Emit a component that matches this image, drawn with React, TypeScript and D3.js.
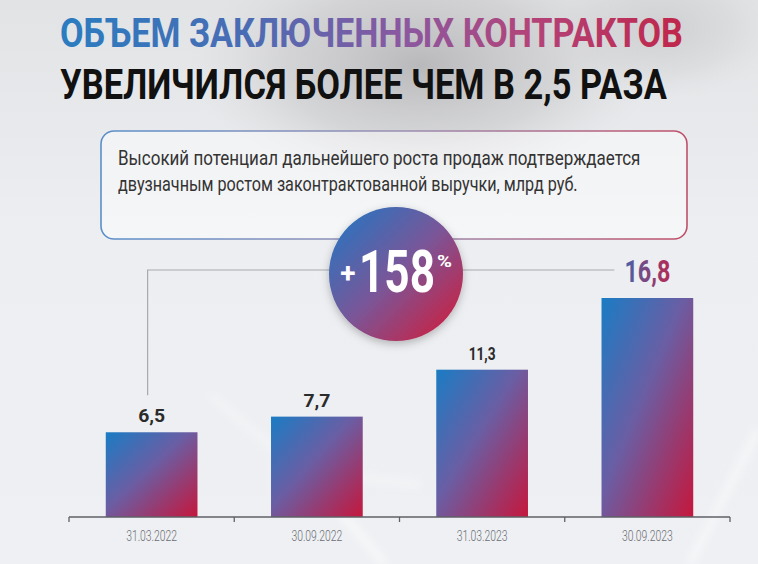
import React, { useLayoutEffect, useRef } from "react";
import * as d3 from "d3";

const categories = ["31.03.2022", "30.09.2022", "31.03.2023", "30.09.2023"];
const values = [6.5, 7.7, 11.3, 16.8];
const valueLabels = ["6,5", "7,7", "11,3", "16,8"];
const titleLine1 = "ОБЪЕМ ЗАКЛЮЧЕННЫХ КОНТРАКТОВ";
const titleLine2 = "УВЕЛИЧИЛСЯ БОЛЕЕ ЧЕМ В 2,5 РАЗА";
const noteLines = [
  "Высокий потенциал дальнейшего роста продаж подтверждается",
  "двузначным ростом законтрактованной выручки, млрд руб.",
];
const growthLabel = "158";

const W = 758;
const H = 564;
const FONT = "Roboto, 'Open Sans', sans-serif";

type FitProps = {
  x: number;
  y: number;
  width: number;
  anchor?: "start" | "middle" | "end";
  children: string;
  [key: string]: any;
};

// Text squeezed horizontally to a target width (condensed look) via a scale transform.
function FitText({ x, y, width, anchor = "start", children, ...rest }: FitProps) {
  const ref = useRef<SVGTextElement>(null);
  useLayoutEffect(() => {
    const el = ref.current;
    if (!el) return;
    const len = el.getComputedTextLength();
    const s = len > 0 ? width / len : 1;
    el.setAttribute("transform", `translate(${x},${y}) scale(${s},1)`);
  });
  return (
    <text ref={ref} x={0} y={0} textAnchor={anchor} transform={`translate(${x},${y})`} {...rest}>
      {children}
    </text>
  );
}

export default function App() {
  const x = d3
    .scaleBand<string>()
    .domain(categories)
    .range([69, 730])
    .paddingInner(0.445)
    .paddingOuter(0.2225);
  const y = d3.scaleLinear().domain([0, 16.8]).range([517, 298]);
  const step = x.step();
  const axisX0 = x.range()[0];
  const tickXs = d3.range(categories.length + 1).map((i) => axisX0 + i * step);

  const firstCenter = (x(categories[0]) as number) + x.bandwidth() / 2 - 4;
  const lastCenter = (x(categories[3]) as number) + x.bandwidth() / 2;
  const connectorY = 270;

  return (
    <svg
      width={W}
      height={H}
      style={{ position: "fixed", left: 0, top: 0, display: "block" }}
      xmlns="http://www.w3.org/2000/svg"
    >
      <defs>
        <linearGradient id="bg" x1="0" y1="0" x2="0" y2="1">
          <stop offset="0" stopColor="#e2e3e5" />
          <stop offset="0.4" stopColor="#eceef1" />
          <stop offset="1" stopColor="#eef0f3" />
        </linearGradient>
        <radialGradient id="blob" cx="0.5" cy="0.5" r="0.5">
          <stop offset="0" stopColor="#b4b4b6" stopOpacity="0.9" />
          <stop offset="0.6" stopColor="#c6c6c8" stopOpacity="0.55" />
          <stop offset="1" stopColor="#d8d8da" stopOpacity="0" />
        </radialGradient>
        <filter id="blur" x="-50%" y="-50%" width="200%" height="200%">
          <feGaussianBlur stdDeviation="4" />
        </filter>
        <linearGradient id="titleGrad" x1="0" y1="0" x2="1" y2="0">
          <stop offset="0" stopColor="#2a7cc0" />
          <stop offset="0.3" stopColor="#4a6cb4" />
          <stop offset="0.55" stopColor="#8a58a0" />
          <stop offset="0.75" stopColor="#b2447a" />
          <stop offset="1" stopColor="#c0264a" />
        </linearGradient>
        <linearGradient id="boxGrad" x1="0" y1="0" x2="1" y2="0">
          <stop offset="0" stopColor="#5b8fc9" />
          <stop offset="0.5" stopColor="#9a90b4" />
          <stop offset="1" stopColor="#c0506a" />
        </linearGradient>
        <linearGradient id="barGrad" x1="0" y1="0" x2="1" y2="1">
          <stop offset="0" stopColor="#1a7cc4" />
          <stop offset="0.45" stopColor="#6a5ea4" />
          <stop offset="1" stopColor="#c5173c" />
        </linearGradient>
        <linearGradient id="circleGrad" x1="0.1" y1="0.1" x2="0.9" y2="0.9">
          <stop offset="0" stopColor="#2f72bd" />
          <stop offset="0.5" stopColor="#7a5698" />
          <stop offset="1" stopColor="#c52448" />
        </linearGradient>
        <linearGradient id="labelGrad" x1="0" y1="0" x2="1" y2="0">
          <stop offset="0" stopColor="#4762a8" />
          <stop offset="1" stopColor="#b52a52" />
        </linearGradient>
        <filter id="shadow" x="-30%" y="-30%" width="160%" height="160%">
          <feDropShadow dx="0" dy="3" stdDeviation="4" floodColor="#000" floodOpacity="0.25" />
        </filter>
      </defs>

      {/* background */}
      <rect x={0} y={0} width={W} height={H} fill="url(#bg)" />
      <ellipse cx={420} cy={65} rx={230} ry={125} fill="url(#blob)" />
      <ellipse cx={660} cy={30} rx={120} ry={70} fill="url(#blob)" opacity={0.5} />
      <g filter="url(#blur)" stroke="#ffffff" strokeOpacity={0.7} fill="none">
        <path d="M 690 564 L 758 430" strokeWidth={5} />
        <path d="M 330 500 L 385 564" strokeWidth={6} />
        <path d="M 210 395 L 300 470 L 420 485" strokeWidth={4} strokeOpacity={0.5} />
      </g>

      {/* title */}
      <FitText x={60} y={47} width={623} fontFamily={FONT} fontWeight={700} fontSize={41} fill="url(#titleGrad)">
        {titleLine1}
      </FitText>
      <FitText x={60} y={99} width={607} fontFamily={FONT} fontWeight={700} fontSize={42} fill="#111">
        {titleLine2}
      </FitText>

      {/* note box */}
      <rect
        x={101}
        y={131}
        width={586}
        height={108}
        rx={13}
        fill="#ffffff"
        fillOpacity={0.45}
        stroke="url(#boxGrad)"
        strokeWidth={1.6}
      />
      {noteLines.map((line, i) => (
        <FitText
          key={i}
          x={118}
          y={165 + i * 26}
          width={i === 0 ? 523 : 460}
          fontFamily={FONT}
          fontSize={20}
          fill="#333"
        >
          {line}
        </FitText>
      ))}

      {/* connector */}
      <path
        d={`M ${firstCenter} ${y(values[0]) - 37} L ${firstCenter} ${connectorY} L ${lastCenter - 33} ${connectorY}`}
        fill="none"
        stroke="#a9a9ab"
        strokeWidth={1.2}
      />

      {/* bars */}
      {categories.map((c, i) => (
        <rect
          key={c}
          x={x(c)}
          y={y(values[i])}
          width={x.bandwidth()}
          height={y(0) - y(values[i])}
          fill="url(#barGrad)"
        />
      ))}

      {/* value labels */}
      {categories.map((c, i) => {
        const cx = (x(c) as number) + x.bandwidth() / 2;
        const last = i === categories.length - 1;
        return (
          <FitText
            key={c}
            x={cx}
            y={last ? y(values[i]) - 16 : y(values[i]) - 10}
            width={last ? 46 : 27}
            anchor="middle"
            fontFamily={FONT}
            fontWeight={700}
            fontSize={last ? 31 : 19}
            fill={last ? "url(#labelGrad)" : "#2b2b2b"}
          >
            {valueLabels[i]}
          </FitText>
        );
      })}

      {/* axis */}
      <g stroke="#5f6166" strokeWidth={1.3}>
        <line x1={tickXs[0]} x2={tickXs[tickXs.length - 1]} y1={y(0)} y2={y(0)} />
        {tickXs.map((tx, i) => (
          <line key={i} x1={tx} x2={tx} y1={y(0)} y2={y(0) + 5} />
        ))}
      </g>
      {categories.map((c) => (
        <FitText
          key={c}
          x={(x(c) as number) + x.bandwidth() / 2}
          y={541}
          width={51}
          anchor="middle"
          fontFamily={FONT}
          fontWeight={300}
          fontSize={14}
          fill="#6b6d72"
        >
          {c}
        </FitText>
      ))}

      {/* growth circle */}
      <circle cx={396} cy={274} r={67} fill="url(#circleGrad)" filter="url(#shadow)" />
      <text x={348} y={283} textAnchor="middle" fontFamily={FONT} fontWeight={700} fontSize={28} fill="#fff">
        +
      </text>
      <FitText x={359} y={292} width={76} fontFamily={FONT} fontWeight={700} fontSize={59} fill="#fff">
        {growthLabel}
      </FitText>
      <FitText x={437} y={267} width={15} fontFamily={FONT} fontWeight={700} fontSize={17} fill="#fff">
        %
      </FitText>
    </svg>
  );
}
